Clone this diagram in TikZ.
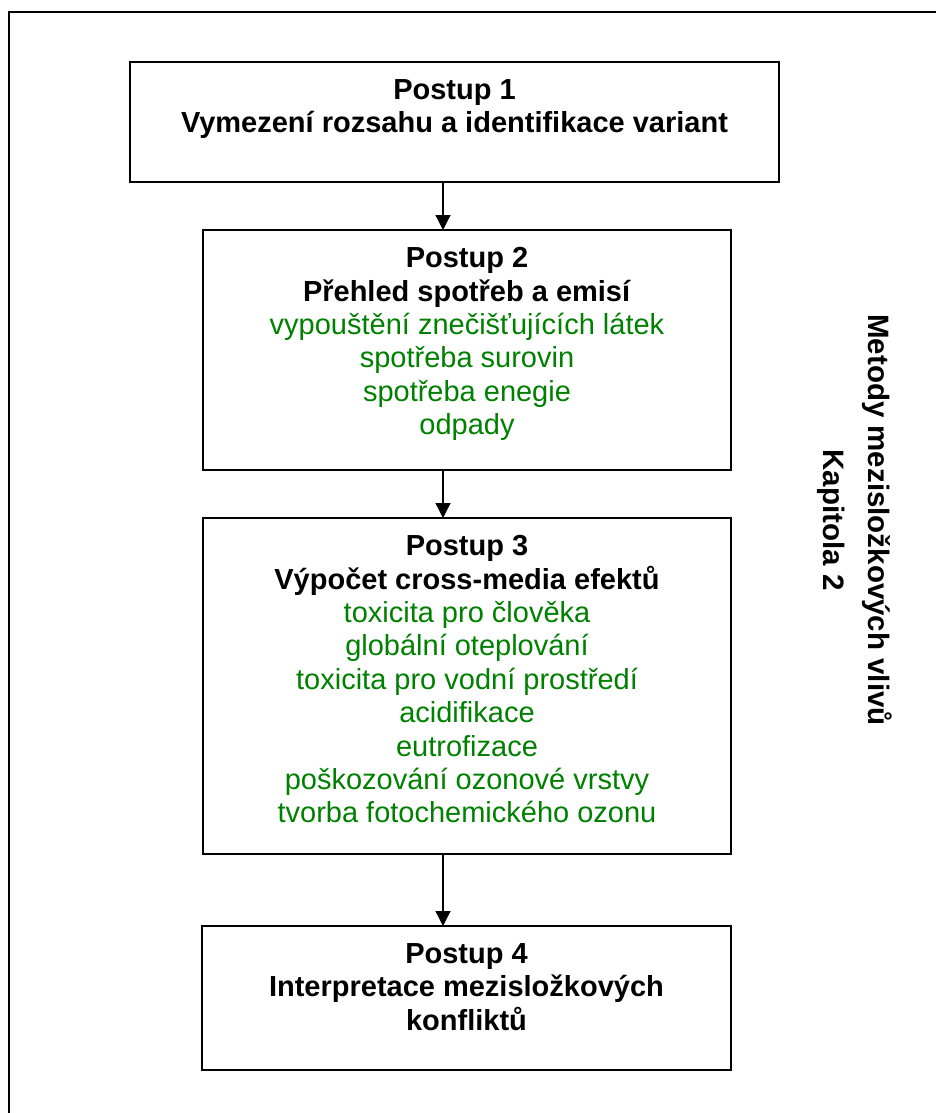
\documentclass[tikz,border=0pt]{standalone}
\usepackage{fontspec}
\setmainfont{Liberation Sans}
\usetikzlibrary{arrows.meta}
\definecolor{txtgreen}{RGB}{0,128,0}
\newcommand{\hd}[1]{\textbf{#1}}
\newcommand{\gr}[1]{\textcolor{txtgreen}{#1}}
\begin{document}
\begin{tikzpicture}[
  x=1pt,y=1pt,
  box/.style={draw,line width=2pt,outer sep=0pt,inner sep=0pt,anchor=north west},
  txt/.style={align=center,inner sep=0pt,anchor=north,font=\fontsize{29}{33.4}\selectfont},
  flow/.style={line width=1.3pt,-{Triangle[length=15pt,width=15pt]}},
  frame/.style={line width=2pt}
]
\useasboundingbox (0,0) rectangle (935,-1113);
\draw[frame] (9,-1114) -- (9,-12) -- (936,-12);

\node[box,minimum width=649pt,minimum height=120pt] (b1) at (130,-62) {};
\node[box,minimum width=528pt,minimum height=240pt] (b2) at (203,-230) {};
\node[box,minimum width=528pt,minimum height=336pt] (b3) at (203,-518) {};
\node[box,minimum width=529pt,minimum height=144pt] (b4) at (202,-926) {};

\node[txt] (t1) at (454.5,-79.2) {\hd{Postup 1}\\\hd{Vymezení rozsahu a identifikace variant}};
\node[txt] (t2) at (467,-247.2) {\hd{Postup 2}\\\hd{Přehled spotřeb a emisí}\\\gr{vypouštění znečišťujících látek}\\\gr{spotřeba surovin}\\\gr{spotřeba enegie}\\\gr{odpady}};
\node[txt] (t3) at (467,-535.2) {\hd{Postup 3}\\\hd{Výpočet cross-media efektů}\\\gr{toxicita pro člověka}\\\gr{globální oteplování}\\\gr{toxicita pro vodní prostředí}\\\gr{acidifikace}\\\gr{eutrofizace}\\\gr{poškozování ozonové vrstvy}\\\gr{tvorba fotochemického ozonu}};
\node[txt] (t4) at (466.5,-943.2) {\hd{Postup 4}\\\hd{Interpretace mezisložkových}\\\hd{konfliktů}};

\node[align=center,inner sep=0pt,rotate=-90,font=\fontsize{29.5}{45}\selectfont\bfseries] (side) at (855,-520) {Metody mezisložkových vlivů\\Kapitola 2};

\coordinate (ax) at (443,0);
\draw[flow] (b1.south -| ax) -- (b2.north -| ax);
\draw[flow] (b2.south -| ax) -- (b3.north -| ax);
\draw[flow] (b3.south -| ax) -- (b4.north -| ax);
\end{tikzpicture}
\end{document}
